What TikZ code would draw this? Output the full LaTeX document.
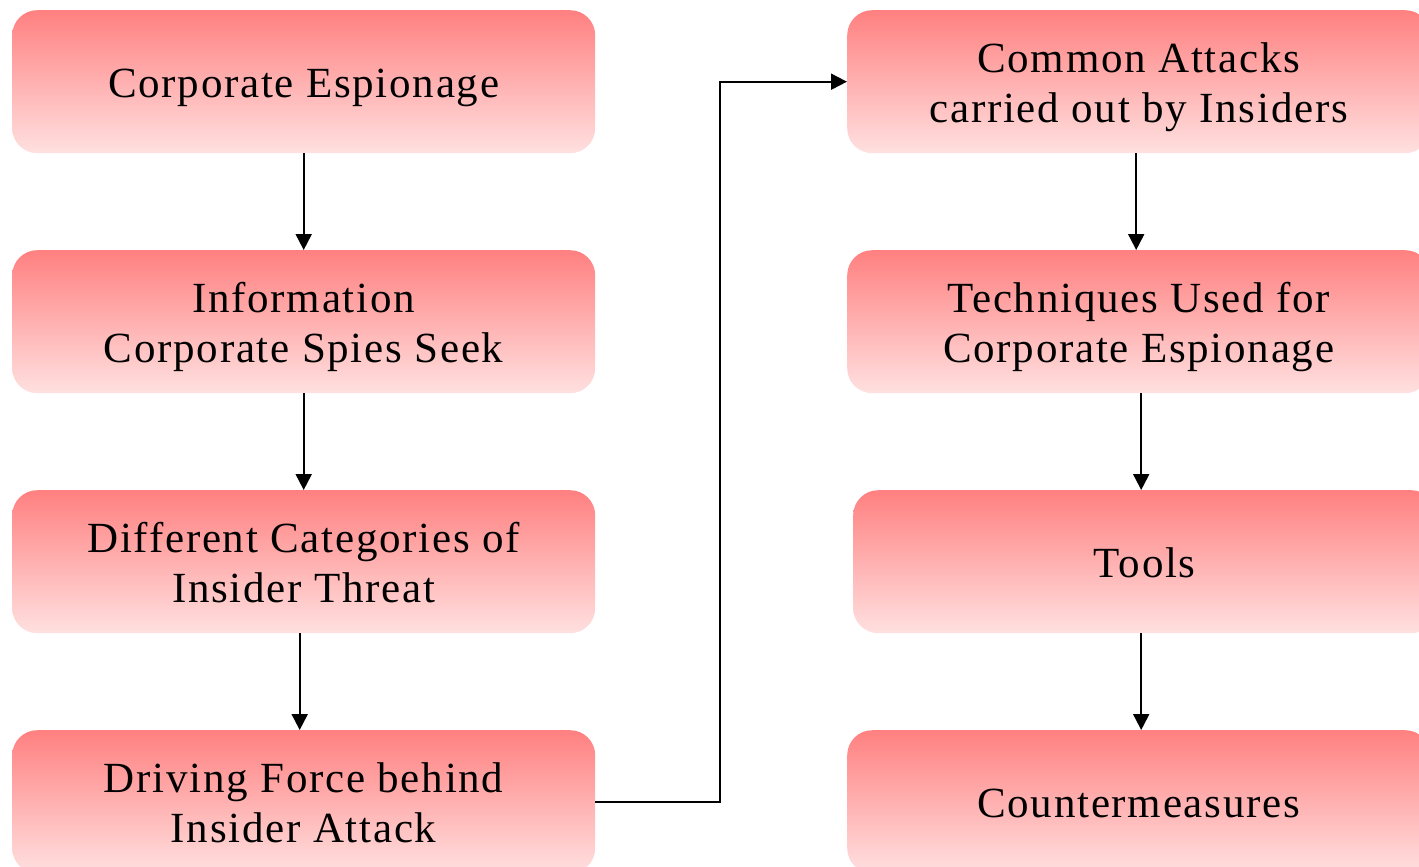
\documentclass[tikz,border=0pt]{standalone}
\usepackage{fontspec}
\setmainfont{Liberation Serif}[LetterSpace=4]
\usetikzlibrary{arrows.meta,calc}
\definecolor{topred}{RGB}{255,128,128}
\definecolor{botred}{RGB}{255,224,224}
\tikzset{
  box/.style={rectangle, rounded corners=25pt, minimum width=583pt, minimum height=143pt,
    inner sep=0pt, anchor=north west, top color=topred, bottom color=botred, draw=none,
    align=center, font=\fontsize{43}{50}\selectfont},
  oneline/.style={box, text height=31pt, text depth=0pt},
  twoline/.style={box, text height=81pt, text depth=0pt},
  conn/.style={line width=2pt, -{Triangle[width=16pt,length=16pt]}}
}
\begin{document}
\begin{tikzpicture}[x=1pt,y=-1pt]
\useasboundingbox (0,0) rectangle (1419,867);
\clip (0,0) rectangle (1419,867);
\node[oneline] (l1) at (12,10) {Corporate Espionage};
\node[twoline] (l2) at (12,250) {Information\\Corporate Spies Seek};
\node[twoline] (l3) at (12,490) {Different Categories of\\Insider Threat};
\node[twoline] (l4) at (12,730) {Driving Force behind\\Insider Attack};
\node[twoline] (r1) at (847,10) {Common Attacks\\carried out by Insiders};
\node[twoline] (r2) at (847,250) {Techniques Used for\\Corporate Espionage};
\node[oneline] (r3) at (853,490) {Tools};
\node[oneline] (r4) at (847,730) {Countermeasures};
\draw[conn] (l1.south) -- (l2.north);
\draw[conn] (l2.south) -- (l3.north);
\draw[conn] ([xshift=-4pt]l3.south) -- ([xshift=-4pt]l4.north);
\draw[conn] ([xshift=-2.5pt]r1.south) -- ([xshift=-2.5pt]r2.north);
\draw[conn] ([xshift=2.5pt]r2.south) -- ([xshift=2.5pt]r2.south |- r3.north);
\draw[conn] ([xshift=-3.5pt]r3.south) -- ([xshift=-3.5pt]r3.south |- r4.north);
\coordinate (bend) at ($(l4.east)+(125,0)$);
\draw[conn] (l4.east) -- (bend) |- (r1.west);
\end{tikzpicture}
\end{document}
